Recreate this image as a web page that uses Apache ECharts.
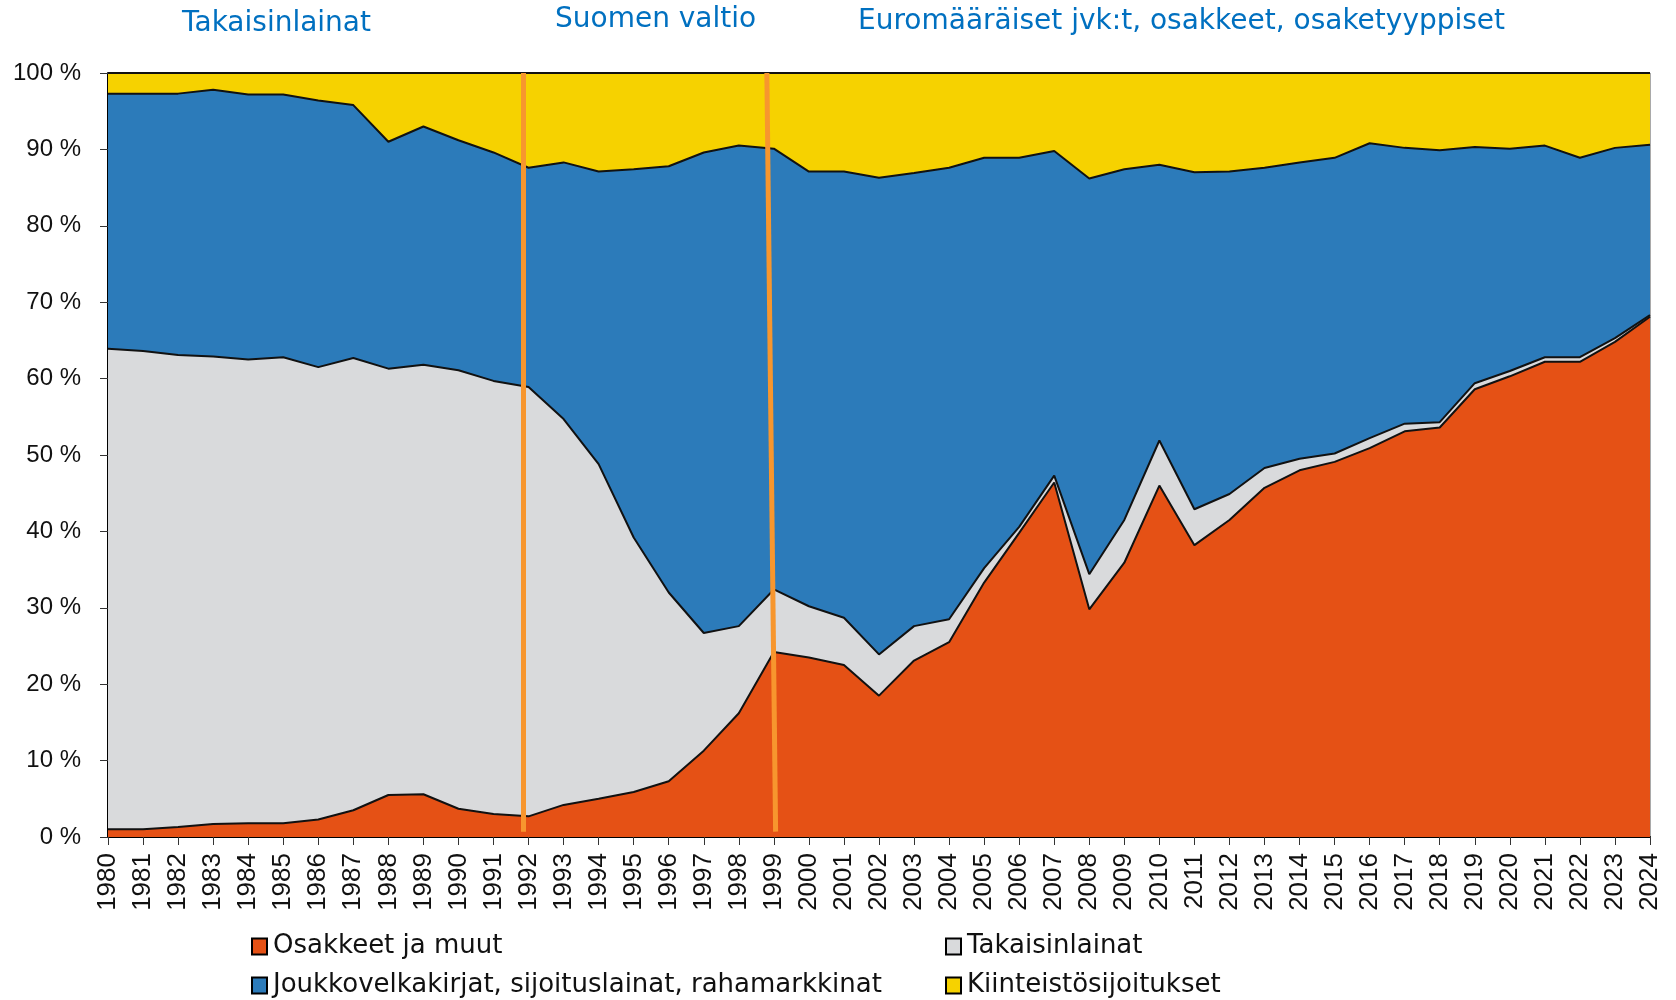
<!DOCTYPE html>
<html>
<head>
<meta charset="utf-8">
<script src="https://cdn.jsdelivr.net/npm/echarts@6/dist/echarts.min.js"></script>
<style>
html,body{margin:0;padding:0;background:#fff;}
#c{width:1676px;height:1000px;}
#err{position:absolute;left:300px;top:300px;color:red;font-size:20px;}
</style>
</head>
<body>
<div id="c"></div>
<div id="err"></div>
<script>
var years = ['1980','1981','1982','1983','1984','1985','1986','1987','1988','1989','1990','1991','1992','1993','1994','1995','1996','1997','1998','1999','2000','2001','2002','2003','2004','2005','2006','2007','2008','2009','2010','2011','2012','2013','2014','2015','2016','2017','2018','2019','2020','2021','2022','2023','2024'];
var osakkeet = [1.0,1.0,1.3,1.7,1.8,1.8,2.3,3.5,5.5,5.6,3.7,3.0,2.7,4.2,5.0,5.9,7.3,11.3,16.2,24.2,23.5,22.5,18.5,23.1,25.5,33.3,39.8,46.4,29.8,35.9,46.0,38.2,41.5,45.7,48.0,49.1,50.9,53.1,53.6,58.6,60.3,62.2,62.2,64.8,68.1];
var takaisinlainat = [62.9,62.6,61.8,61.2,60.7,61.0,59.2,59.2,55.8,56.2,57.4,56.7,56.2,50.5,43.8,33.3,24.7,15.4,11.4,8.2,6.7,6.2,5.4,4.5,3.0,1.9,0.8,0.9,4.6,5.6,5.9,4.7,3.4,2.6,1.5,1.1,1.3,1.0,0.7,0.8,0.7,0.6,0.6,0.5,0.2];
var joukkovelkakirjat = [33.4,33.7,34.2,34.9,34.7,34.4,34.9,33.1,29.7,31.2,30.1,29.9,28.7,33.6,38.3,48.2,55.8,62.9,62.9,57.7,56.9,58.4,62.4,59.3,59.1,53.7,48.3,42.5,51.8,45.9,36.1,44.1,42.2,39.3,38.8,38.7,38.6,36.1,35.6,30.9,29.1,27.7,26.1,24.9,22.3];
var kiinteisto = [2.7,2.7,2.7,2.2,2.8,2.8,3.6,4.2,9.0,7.0,8.8,10.4,12.4,11.7,12.9,12.6,12.2,10.4,9.5,9.9,12.9,12.9,13.7,13.1,12.4,11.1,11.1,10.2,13.8,12.6,12.0,13.0,12.9,12.4,11.7,11.1,9.2,9.8,10.1,9.7,9.9,9.5,11.1,9.8,9.4];
var seriesNames = ['Osakkeet ja muut','Takaisinlainat','Joukkovelkakirjat, sijoituslainat, rahamarkkinat','Kiinteistösijoitukset'];
var seriesColors = ['#E55115','#D9DADC','#2C7BBA','#F6D200'];
var periodLabels = ['Takaisinlainat','Suomen valtio','Euromääräiset jvk:t, osakkeet, osaketyyppiset'];
// period separators in years: [x at bottom, x at top]
var separators = [[1991.85,1991.85],[1999.05,1998.8]];

var seriesData = [osakkeet, takaisinlainat, joukkovelkakirjat, kiinteisto];

try {
var series = seriesData.map(function(d,i){
  return {
    name: seriesNames[i],
    type: 'line',
    stack: 'total',
    data: d,
    symbol: 'none',
    showSymbol: false,
    lineStyle: {color:'#111', width:2},
    areaStyle: {color: seriesColors[i], opacity:1},
    itemStyle: {color: seriesColors[i], borderColor:'#111', borderWidth:2},
    z: 2
  };
});
series.push({
  name: 'separators', type: 'line', xAxisIndex: 1, yAxisIndex: 0,
  data: [], silent: true, z: 5,
  markLine: {
    silent:true, symbol:['none','none'], animation:false,
    label:{show:false},
    lineStyle:{color:'#F7962E', width:5, type:'solid'},
    data: separators.map(function(s){ return [{coord:[s[0],0.7]},{coord:[s[1],100]}]; })
  }
});

var chart = echarts.init(document.getElementById('c'), null, {renderer:'canvas'});
var textFont = 'DejaVu Sans, Verdana, sans-serif';
chart.setOption({
  animation:false,
  backgroundColor:'#fff',
  title: [
    {text: periodLabels[0], left:177, top:5, textStyle:{color:'#0070C0', fontSize:28, fontWeight:'normal', fontFamily:textFont}},
    {text: periodLabels[1], left:550, top:1, textStyle:{color:'#0070C0', fontSize:28, fontWeight:'normal', fontFamily:textFont}},
    {text: periodLabels[2], left:853, top:3, textStyle:{color:'#0070C0', fontSize:28, fontWeight:'normal', fontFamily:textFont}}
  ],
  legend: {
    orient:'horizontal', left:246, top:922, width:1420, itemGap:0, itemWidth:15, itemHeight:16,
    icon:'rect',
    itemStyle:{borderColor:'#000', borderWidth:2},
    data: seriesNames.slice(),
    textStyle:{fontSize:26, color:'#111', fontFamily:textFont, width:672, lineHeight:39, padding:[0,0,0,1]}
  },
  grid:{left:108, right:26, top:73, bottom:163, show:true, borderColor:'#555', borderWidth:1, containLabel:false},
  xAxis:[{
    type:'category', data: years, boundaryGap:false,
    axisLine:{show:true, onZero:false, lineStyle:{color:'#000', width:2}},
    axisTick:{show:true, length:8, interval:0, lineStyle:{color:'#333', width:1}},
    axisLabel:{rotate:90, interval:0, fontSize:26, color:'#111', fontFamily:'Liberation Sans, Arial, sans-serif', margin:16},
    splitLine:{show:false}
  },{
    type:'value', min:1980, max:2024, show:false, splitLine:{show:false}
  }],
  yAxis:{
    type:'value', min:0, max:100, interval:10,
    axisLine:{show:true, lineStyle:{color:'#000', width:2}},
    axisTick:{show:true, length:8, lineStyle:{color:'#333', width:1}},
    axisLabel:{fontSize:24, color:'#111', fontFamily:'Liberation Sans, Arial, sans-serif', margin:27,
      formatter:function(v){return v + ' %';}},
    splitLine:{show:false}
  },
  series: series
});
} catch(e) { document.getElementById('err').textContent = 'ERR: ' + e.message; }
</script>
</body>
</html>
